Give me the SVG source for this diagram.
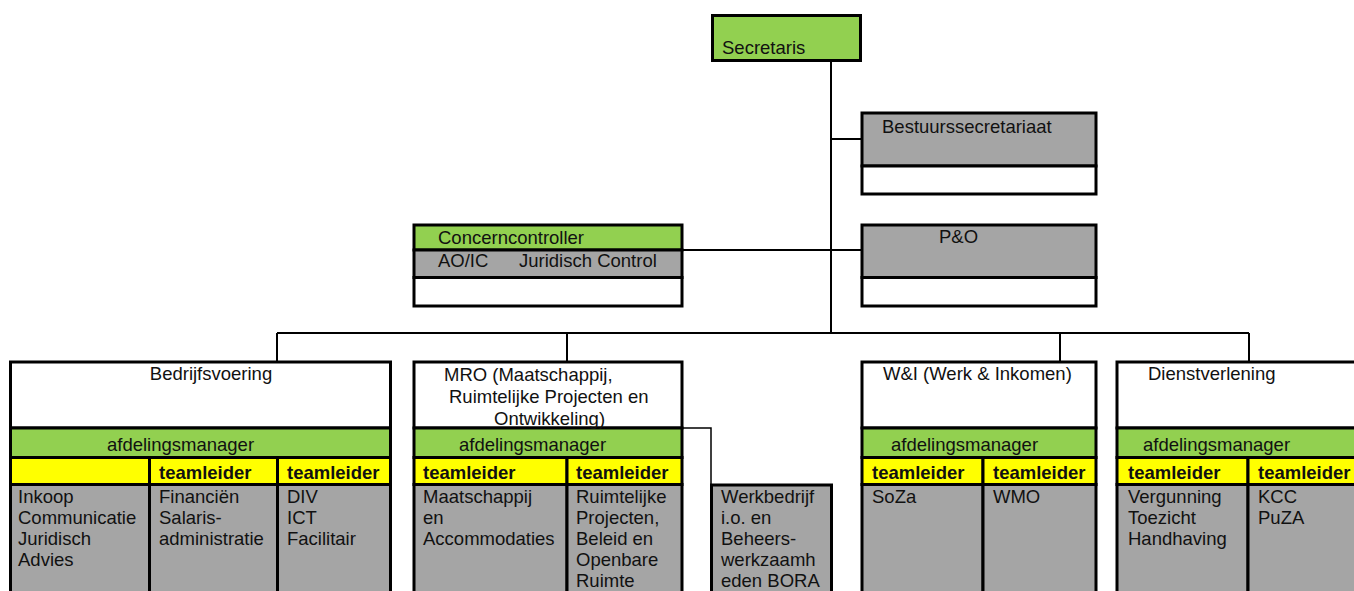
<svg xmlns="http://www.w3.org/2000/svg" width="1354" height="591" viewBox="0 0 1354 591">
<style>
rect{stroke:#000;stroke-width:3}
.g{fill:#92d050}.y{fill:#ffff00}.s{fill:#a5a5a5}.w{fill:#fff}
text{font-family:"Liberation Sans",Arial,sans-serif;font-size:18.5px;fill:#111}
.b{font-weight:bold}
.c{text-anchor:middle}
.ln{stroke:#000;stroke-width:2;fill:none}
</style>
<g id="connectors">
<path class="ln" d="M831 60V333M831 139H862M683 250H862M277 333H1249M277 333V362M567 333V362M1060 333V362M1249 333V362"/>
<path d="M682 428H711V485" stroke="#000" stroke-width="1.5" fill="none"/>
</g>
<g id="secretaris">
<rect class="g" x="712.5" y="15.5" width="148" height="45"/>
<text x="722" y="54">Secretaris</text>
</g>
<g id="bestuurssecretariaat">
<rect class="s" x="862" y="113" width="234" height="53"/>
<rect class="w" x="862" y="166" width="234" height="28"/>
<text x="882" y="133">Bestuurssecretariaat</text>
</g>
<g id="concerncontroller">
<rect class="g" x="414" y="225" width="268" height="25"/>
<rect class="s" x="414" y="250" width="268" height="27.5"/>
<rect class="w" x="414" y="277.5" width="268" height="28.5"/>
<text x="438" y="244">Concerncontroller</text>
<text x="438" y="267">AO/IC</text>
<text x="519" y="267">Juridisch Control</text>
</g>
<g id="po">
<rect class="s" x="862" y="225" width="234" height="52.5"/>
<rect class="w" x="862" y="277.5" width="234" height="28.5"/>
<text x="939" y="243">P&amp;O</text>
</g>
<g id="bedrijfsvoering">
<rect class="w" x="10.5" y="362" width="380" height="66"/>
<rect class="g" x="10.5" y="428" width="380" height="29.5"/>
<rect class="y" x="10.5" y="457.5" width="139" height="27"/>
<rect class="y" x="149.5" y="457.5" width="128" height="27"/>
<rect class="y" x="277.5" y="457.5" width="113" height="27"/>
<rect class="s" x="10.5" y="484.5" width="139" height="130"/>
<rect class="s" x="149.5" y="484.5" width="128" height="130"/>
<rect class="s" x="277.5" y="484.5" width="113" height="130"/>
<text x="211" y="380" class="c">Bedrijfsvoering</text>
<text x="107" y="451">afdelingsmanager</text>
<text x="159" y="479" class="b">teamleider</text>
<text x="287" y="479" class="b">teamleider</text>
<text x="18" y="503">Inkoop</text>
<text x="18" y="524">Communicatie</text>
<text x="18" y="545">Juridisch</text>
<text x="18" y="566">Advies</text>
<text x="159" y="503">Financiën</text>
<text x="159" y="524">Salaris-</text>
<text x="159" y="545">administratie</text>
<text x="287" y="503">DIV</text>
<text x="287" y="524">ICT</text>
<text x="287" y="545">Facilitair</text>
</g>
<g id="mro">
<rect class="w" x="414" y="362" width="268" height="66"/>
<rect class="g" x="414" y="428" width="268" height="29.5"/>
<rect class="y" x="414" y="457.5" width="153" height="27"/>
<rect class="y" x="567" y="457.5" width="115" height="27"/>
<rect class="s" x="414" y="484.5" width="153" height="130"/>
<rect class="s" x="567" y="484.5" width="115" height="130"/>
<text x="444" y="381">MRO (Maatschappij,</text>
<text x="449" y="403">Ruimtelijke Projecten en</text>
<text x="494" y="425">Ontwikkeling)</text>
<text x="459" y="451">afdelingsmanager</text>
<text x="423" y="479" class="b">teamleider</text>
<text x="576" y="479" class="b">teamleider</text>
<text x="423" y="503">Maatschappij</text>
<text x="423" y="524">en</text>
<text x="423" y="545">Accommodaties</text>
<text x="576" y="503">Ruimtelijke</text>
<text x="576" y="524">Projecten,</text>
<text x="576" y="545">Beleid en</text>
<text x="576" y="566">Openbare</text>
<text x="576" y="587">Ruimte</text>
</g>
<g id="werkbedrijf">
<rect class="s" x="711.5" y="485" width="120" height="130"/>
<text x="721" y="503">Werkbedrijf</text>
<text x="721" y="524">i.o. en</text>
<text x="721" y="545">Beheers-</text>
<text x="721" y="566">werkzaamh</text>
<text x="721" y="587">eden BORA</text>
</g>
<g id="wi">
<rect class="w" x="862" y="362" width="234" height="66"/>
<rect class="g" x="862" y="428" width="234" height="29.5"/>
<rect class="y" x="862" y="457.5" width="121" height="27"/>
<rect class="y" x="983" y="457.5" width="113" height="27"/>
<rect class="s" x="862" y="484.5" width="121" height="130"/>
<rect class="s" x="983" y="484.5" width="113" height="130"/>
<text x="883" y="380">W&amp;I (Werk &amp; Inkomen)</text>
<text x="891" y="451">afdelingsmanager</text>
<text x="872" y="479" class="b">teamleider</text>
<text x="993" y="479" class="b">teamleider</text>
<text x="872" y="503">SoZa</text>
<text x="993" y="503">WMO</text>
</g>
<g id="dienstverlening">
<rect class="w" x="1117" y="362" width="260" height="66"/>
<rect class="g" x="1117" y="428" width="260" height="29.5"/>
<rect class="y" x="1117" y="457.5" width="131" height="27"/>
<rect class="y" x="1248" y="457.5" width="129" height="27"/>
<rect class="s" x="1117" y="484.5" width="131" height="130"/>
<rect class="s" x="1248" y="484.5" width="129" height="130"/>
<text x="1148" y="380">Dienstverlening</text>
<text x="1143" y="451">afdelingsmanager</text>
<text x="1128" y="479" class="b">teamleider</text>
<text x="1258" y="479" class="b">teamleider</text>
<text x="1128" y="503">Vergunning</text>
<text x="1128" y="524">Toezicht</text>
<text x="1128" y="545">Handhaving</text>
<text x="1258" y="503">KCC</text>
<text x="1258" y="524">PuZA</text>
</g>
</svg>
